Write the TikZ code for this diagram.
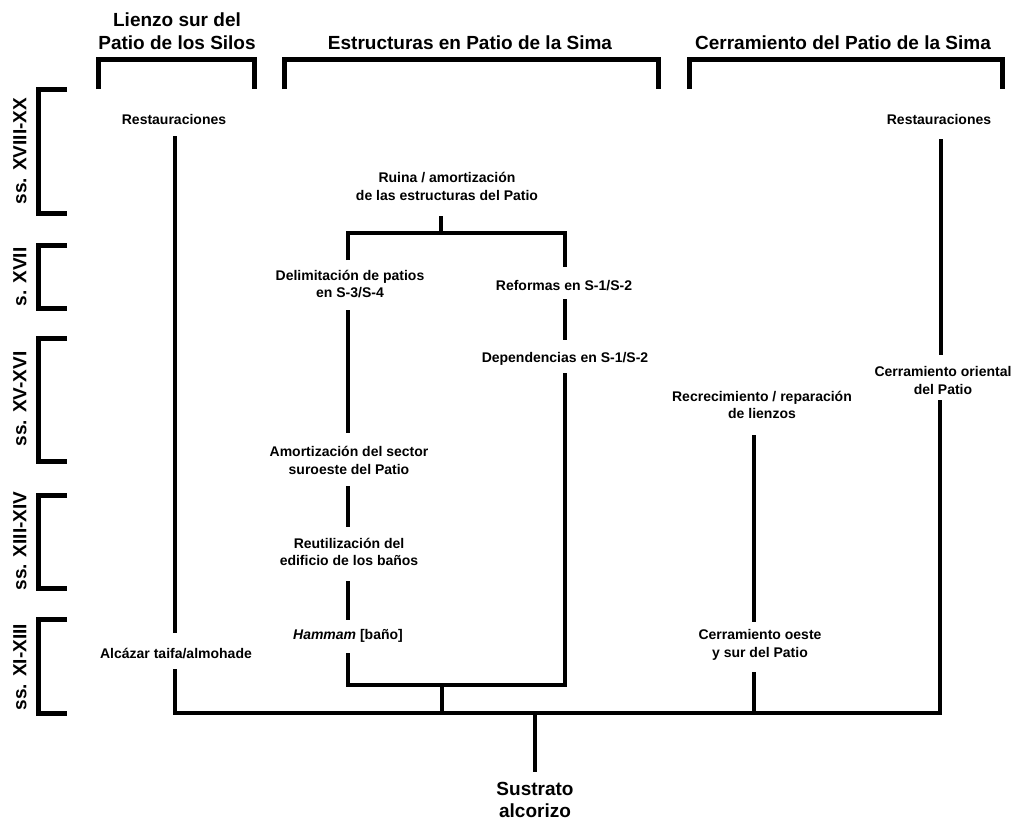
\documentclass[tikz,border=0pt]{standalone}
\usepackage{fontspec}
\setmainfont{Liberation Sans}
\tikzset{
  brk/.style={line width=5pt, line join=miter, line cap=butt},
  tree/.style={line width=4.5pt, line join=miter, line cap=butt},
  lbl/.style={font=\fontsize{14}{17.5}\selectfont\bfseries, align=center, inner sep=0pt},
  ttl/.style={font=\fontsize{19}{23}\selectfont\bfseries, align=center, inner sep=0pt},
  per/.style={ttl, rotate=90},
}
\begin{document}
\begin{tikzpicture}[x=1pt,y=-1pt]
\useasboundingbox (0,0) rectangle (1012,820);
% column titles
\node[ttl] (tSilos) at (177,31.5) {Lienzo sur del\\Patio de los Silos};
\node[ttl] (tEstr) at (470,43) {Estructuras en Patio de la Sima};
\node[ttl] (tCerr) at (843,43) {Cerramiento del Patio de la Sima};
\draw[brk] (98,89) -- (98,59) -- (254,59) -- (254,89);
\draw[brk] (284,89) -- (284,59) -- (658,59) -- (658,89);
\draw[brk] (689,89) -- (689,59) -- (1002,59) -- (1002,89);
% periods
\node[per] (p1) at (20,151) {ss. XVIII-XX};
\node[per] (p2) at (20,277) {s. XVII};
\node[per] (p3) at (20,399) {ss. XV-XVI};
\node[per] (p4) at (20,541) {ss. XIII-XIV};
\node[per] (p5) at (20,667) {ss. XI-XIII};
\draw[brk] (67,89) -- (38,89) -- (38,213) -- (67,213);
\draw[brk] (67,245) -- (38,245) -- (38,308) -- (67,308);
\draw[brk] (67,338) -- (38,338) -- (38,461) -- (67,461);
\draw[brk] (67,495) -- (38,495) -- (38,588) -- (67,588);
\draw[brk] (67,619) -- (38,619) -- (38,713) -- (67,713);
% left column
\node[lbl] (restL) at (174,119) {Restauraciones};
\node[lbl] (alcazar) at (176,653) {Alcázar taifa/almohade};
% central column
\node[lbl] (ruina) at (447,186.5) {Ruina / amortización\\de las estructuras del Patio};
\node[lbl] (delim) at (350,284) {Delimitación de patios\\en S-3/S-4};
\node[lbl] (reform) at (564,286) {Reformas en S-1/S-2};
\node[lbl] (depend) at (565,359) {Dependencias en S-1/S-2};
\node[lbl] (amort) at (349,460.5) {Amortización del sector\\suroeste del Patio};
\node[lbl] (reutil) at (349,552) {Reutilización del\\edificio de los baños};
\node[lbl] (hammam) at (348,636) {\textit{Hammam} [baño]};
% right column
\node[lbl] (restR) at (939,119) {Restauraciones};
\node[lbl] (orient) at (943,380.5) {Cerramiento oriental\\del Patio};
\node[lbl] (recrec) at (762,405) {Recrecimiento / reparación\\de lienzos};
\node[lbl] (oeste) at (760,645) {Cerramiento oeste\\y sur del Patio};
% base
\node[ttl, font=\fontsize{19}{22}\selectfont\bfseries] (sustrato) at (535,799.5) {Sustrato\\alcorizo};
\coordinate (base) at (535,713);
\coordinate (jC) at (442,713);
\coordinate (jW) at (754,713);
% connectors, left column
\draw[tree] ([xshift=1pt,yshift=-17pt]restL.center) -- ([xshift=-1pt,yshift=20pt]alcazar.center);
\draw[tree] ([xshift=-1pt,yshift=-16pt]alcazar.center) -- (175,713) -- (940,713)
   -- ([xshift=-3pt,yshift=-19.5pt]orient.center);
% central column
\draw[tree] ([xshift=-6pt,yshift=-29.5pt]ruina.center) -- ([xshift=-6pt,yshift=-46.5pt]ruina.center);
\draw[tree] ([xshift=-2pt,yshift=24pt]delim.center) -- ([xshift=-2pt,yshift=51pt]delim.center)
   -- ([xshift=1pt,yshift=53pt]reform.center) -- ([xshift=1pt,yshift=19pt]reform.center);
\draw[tree] ([xshift=1pt,yshift=-13pt]reform.center) -- ([yshift=19pt]depend.center);
\draw[tree] ([xshift=-2pt,yshift=-26pt]delim.center) -- ([xshift=-1pt,yshift=27.5pt]amort.center);
\draw[tree] ([xshift=-1pt,yshift=-25.5pt]amort.center) -- ([xshift=-1pt,yshift=25pt]reutil.center);
\draw[tree] ([xshift=-1pt,yshift=-29pt]reutil.center) -- ([yshift=16pt]hammam.center);
\draw[tree] ([yshift=-14pt]depend.center) -- ([yshift=-326pt]depend.center)
   -- ([yshift=-49pt]hammam.center) -- ([yshift=-17pt]hammam.center);
\draw[tree] ([yshift=28pt]jC) -- (jC);
% right column
\draw[tree] ([xshift=2pt,yshift=-20pt]restR.center) -- ([xshift=-2pt,yshift=25.5pt]orient.center);
\draw[tree] ([xshift=-8pt,yshift=-30pt]recrec.center) -- ([xshift=-6pt,yshift=23pt]oeste.center);
\draw[tree] ([xshift=-6pt,yshift=-27pt]oeste.center) -- (jW);
% sustrato
\draw[tree] (base) -- ([yshift=27.5pt]sustrato.center);
\end{tikzpicture}
\end{document}
